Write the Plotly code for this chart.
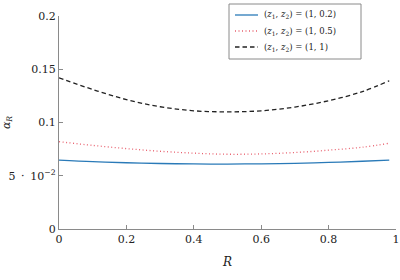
import plotly.graph_objects as go

R = [0.0, 0.1, 0.2, 0.3, 0.4, 0.5, 0.6, 0.7, 0.8, 0.9, 0.98]
alpha_02 = [0.0647, 0.0632, 0.0622, 0.0615, 0.0611, 0.0610, 0.0612, 0.0617, 0.0625, 0.0636, 0.0647]
alpha_05 = [0.0820, 0.0785, 0.0755, 0.0730, 0.0712, 0.0702, 0.0705, 0.0718, 0.0740, 0.0768, 0.0805]
alpha_1 = [0.1420, 0.1310, 0.1215, 0.1148, 0.1110, 0.1100, 0.1110, 0.1145, 0.1205, 0.1290, 0.1392]

names = ["(<i>z</i><sub>1</sub>, <i>z</i><sub>2</sub>) = (1, 0.2)",
         "(<i>z</i><sub>1</sub>, <i>z</i><sub>2</sub>) = (1, 0.5)",
         "(<i>z</i><sub>1</sub>, <i>z</i><sub>2</sub>) = (1, 1)"]
colors = ["#2a7ab8", "#e8606e", "#222222"]
dashes = ["solid", "1px,2.5px", "4.5px,3px"]
series = [alpha_02, alpha_05, alpha_1]

x_ticks = [0, 0.2, 0.4, 0.6, 0.8, 1]
x_tick_text = ["0", "0.2", "0.4", "0.6", "0.8", "1"]
y_ticks = [0, 0.05, 0.1, 0.15, 0.2]
y_tick_text = ["0", "5 \u2009·\u2009 10<sup>−2</sup>", "0.1", "0.15", "0.2"]

font = "DejaVu Serif, Liberation Serif, serif"

PL, PR, PT, PB = 59, 396, 16, 229  # plot area in px

fig = go.Figure()
for nm, ys, c, d in zip(names, series, colors, dashes):
    fig.add_trace(go.Scatter(x=R, y=ys, mode="lines", name=nm, showlegend=False,
                             line=dict(color=c, width=1.3, dash=d, shape="spline")))

axis_common = dict(showgrid=False, zeroline=False, showline=True, linecolor="#8a8a8a",
                   linewidth=1.3, ticks="inside", ticklen=4, tickcolor="#8a8a8a",
                   automargin=False,
                   tickfont=dict(family=font, size=11, color="#222"))
fig.update_xaxes(range=[0, 1], tickvals=x_ticks, ticktext=x_tick_text,
                 ticklabeloverflow="allow",
                 title=dict(text="<i>R</i>", font=dict(family=font, size=12, color="#222"), standoff=12),
                 **axis_common)
fig.update_yaxes(range=[0, 0.2], tickvals=y_ticks, ticktext=y_tick_text,
                 title=dict(text="<i>α<sub>R</sub></i>", font=dict(family=font, size=11, color="#222"), standoff=4),
                 **axis_common)

# Manual legend in paper coordinates
def px_x(p):
    return (p - PL) / float(PR - PL)

def px_y(p):
    return (PB - p) / float(PB - PT)

shapes = [dict(type="rect", xref="paper", yref="paper",
               x0=px_x(229), x1=px_x(361), y0=px_y(59), y1=px_y(4),
               line=dict(color="#8a8a8a", width=1), fillcolor="white", layer="above")]
annotations = []
entry_y = [15, 31, 47]
for nm, c, d, ey in zip(names, colors, dashes, entry_y):
    shapes.append(dict(type="line", xref="paper", yref="paper",
                       x0=px_x(235), x1=px_x(258), y0=px_y(ey), y1=px_y(ey),
                       line=dict(color=c, width=1.3, dash=d), layer="above"))
    annotations.append(dict(xref="paper", yref="paper", x=px_x(262), y=px_y(ey),
                            xanchor="left", yanchor="middle", showarrow=False,
                            text=nm, font=dict(family=font, size=8.5, color="#222")))

fig.update_layout(
    width=400, height=280,
    margin=dict(l=PL, r=400 - PR, t=PT, b=280 - PB),
    plot_bgcolor="white", paper_bgcolor="white",
    font=dict(family=font, color="#222"),
    showlegend=False,
    shapes=shapes,
    annotations=annotations,
)
fig.write_html("out.html")
